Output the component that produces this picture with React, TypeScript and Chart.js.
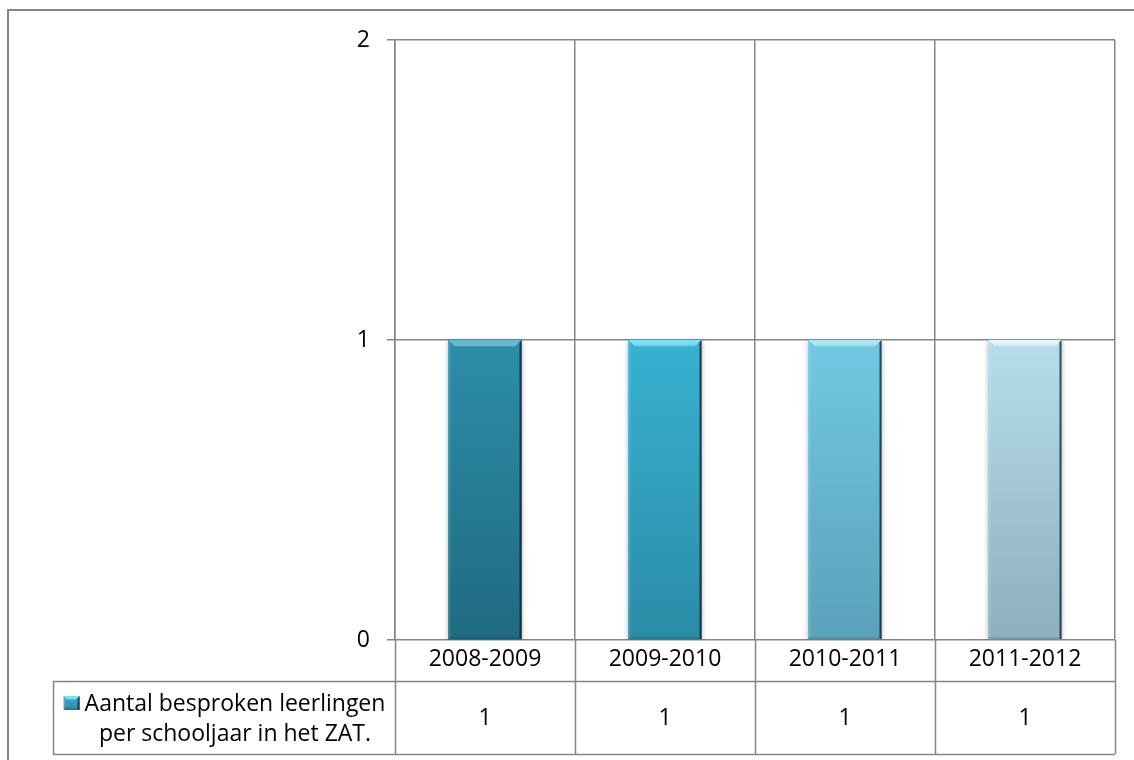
import React, { useEffect, useRef } from "react";
import { Chart, registerables } from "chart.js";

Chart.register(...registerables);

const categories = ["2008-2009", "2009-2010", "2010-2011", "2011-2012"];
const values = [1, 1, 1, 1];
const seriesLabel = ["Aantal besproken leerlingen", "per schooljaar in het ZAT."];
const yTickValues = [0, 1, 2];
const barTop = ["#2D8EA9", "#39B1D1", "#72C9E3", "#B7DDED"];
const barBottom = ["#1F6A80", "#2A8CA7", "#5AA1BA", "#8DAFBE"];
const barHighlight = ["#5CBAD3", "#74E2F9", "#A9E6F6", "#E3F5FC"];

const FONT = "'Open Sans', 'DejaVu Sans', sans-serif";
const FONT_SIZE = 23;
const GRID = "#858585";

function drawBevel(ctx: CanvasRenderingContext2D, x: number, y: number, w: number, h: number, hi: string, b: number) {
  ctx.save();
  const g = ctx.createLinearGradient(0, y, 0, y + b);
  g.addColorStop(0, hi);
  g.addColorStop(0.45, hi);
  g.addColorStop(1, "rgba(255,255,255,0)");
  ctx.beginPath();
  ctx.moveTo(x, y);
  ctx.lineTo(x + w, y);
  ctx.lineTo(x + w - b, y + b);
  ctx.lineTo(x + b, y + b);
  ctx.closePath();
  ctx.fillStyle = g;
  ctx.fill();
  ctx.fillStyle = "rgba(255,255,255,0.12)";
  ctx.beginPath();
  ctx.moveTo(x, y);
  ctx.lineTo(x + 2, y + 2);
  ctx.lineTo(x + 2, y + h - 1);
  ctx.lineTo(x, y + h);
  ctx.closePath();
  ctx.fill();
  ctx.fillStyle = "rgba(5,35,48,0.75)";
  ctx.beginPath();
  ctx.moveTo(x + w, y);
  ctx.lineTo(x + w - 2, y + 2);
  ctx.lineTo(x + w - 2, y + h - 1);
  ctx.lineTo(x + w, y + h);
  ctx.closePath();
  ctx.fill();
  ctx.fillStyle = "rgba(0,0,0,0.12)";
  ctx.fillRect(x, y + h - 2, w, 2);
  ctx.restore();
}

const frameAndTable = {
  id: "frameAndTable",
  beforeDraw(chart: any) {
    const ctx = chart.ctx;
    ctx.save();
    ctx.fillStyle = "#ffffff";
    ctx.fillRect(0, 0, chart.width, chart.height);
    ctx.strokeStyle = "#868686";
    ctx.lineWidth = 2;
    ctx.strokeRect(8, 10, chart.width + 20, chart.height + 20);
    ctx.restore();
  },
  beforeDatasetsDraw(chart: any) {
    const ctx = chart.ctx;
    ctx.save();
    ctx.shadowColor = "rgba(0,0,0,0.28)";
    ctx.shadowBlur = 5;
    ctx.shadowOffsetX = 0;
    ctx.shadowOffsetY = 1;
  },
  afterDatasetsDraw(chart: any) {
    const ctx = chart.ctx;
    ctx.restore();
    const meta = chart.getDatasetMeta(0);
    meta.data.forEach((bar: any, i: number) => {
      const p = bar.getProps(["x", "y", "base", "width"], true);
      if (![p.x, p.y, p.base, p.width].every(Number.isFinite)) return;
      drawBevel(ctx, p.x - p.width / 2, p.y, p.width, p.base - p.y, barHighlight[i % barHighlight.length], 7);
    });
  },
  afterDraw(chart: any) {
    const ctx = chart.ctx;
    const xs = chart.scales.x;
    const area = chart.chartArea;
    const n = categories.length;
    const colW = (area.right - area.left) / n;
    const headerBottom = area.bottom + 41;
    const rowBottom = headerBottom + 73;
    const tableLeft = 53;
    ctx.save();
    ctx.strokeStyle = GRID;
    ctx.lineWidth = 1.5;
    ctx.beginPath();
    for (let i = 0; i <= n; i++) {
      const px = Math.round(area.left + i * colW) + 0.5;
      ctx.moveTo(px, area.bottom);
      ctx.lineTo(px, rowBottom);
    }
    ctx.moveTo(tableLeft, headerBottom + 0.5);
    ctx.lineTo(area.right, headerBottom + 0.5);
    ctx.moveTo(tableLeft, rowBottom + 0.5);
    ctx.lineTo(area.right, rowBottom + 0.5);
    ctx.moveTo(tableLeft + 0.5, headerBottom);
    ctx.lineTo(tableLeft + 0.5, rowBottom);
    ctx.stroke();

    ctx.fillStyle = "#000";
    ctx.font = `${FONT_SIZE}px ${FONT}`;
    ctx.textAlign = "center";
    ctx.textBaseline = "middle";
    const rowMid = (headerBottom + rowBottom) / 2;
    values.forEach((v, i) => {
      ctx.fillText(String(v), xs.getPixelForTick(i), rowMid + 1);
    });

    const textCx = (tableLeft + area.left) / 2 + 11;
    ctx.fillText(seriesLabel[0], textCx, headerBottom + 23);
    ctx.fillText(seriesLabel[1], textCx, headerBottom + 53);
    const w1 = ctx.measureText(seriesLabel[0]).width;
    const kx = textCx - w1 / 2 - 21;
    const ky = headerBottom + 15;
    const g = ctx.createLinearGradient(0, ky, 0, ky + 14);
    g.addColorStop(0, "#3BB0D0");
    g.addColorStop(1, "#2A87A2");
    ctx.fillStyle = g;
    ctx.fillRect(kx, ky, 16, 14);
    drawBevel(ctx, kx, ky, 16, 14, "#7FE3F7", 4);
    ctx.restore();
  },
};

export default function App() {
  const ref = useRef<HTMLCanvasElement | null>(null);
  useEffect(() => {
    document.body.style.margin = "0";
    const canvas = ref.current!;
    const chart = new Chart(canvas, {
      type: "bar",
      data: {
        labels: categories,
        datasets: [
          {
            label: seriesLabel.join(" "),
            data: values,
            barThickness: 73,
            borderWidth: 0,
            backgroundColor: (c: any) => {
              const i = c.dataIndex ?? 0;
              const ys = c.chart.scales?.y;
              if (!ys || c.raw === undefined) return barTop[i] || barTop[0];
              const y0 = ys.getPixelForValue(c.raw);
              const y1 = ys.getPixelForValue(0);
              if (!Number.isFinite(y0) || !Number.isFinite(y1) || y0 === y1) return barTop[i];
              const g = c.chart.ctx.createLinearGradient(0, y0, 0, y1);
              g.addColorStop(0, barTop[i]);
              g.addColorStop(1, barBottom[i]);
              return g;
            },
          },
        ],
      },
      options: {
        responsive: false,
        animation: false,
        devicePixelRatio: 1,
        layout: { padding: { left: 0, right: 19, top: 40, bottom: 80 } },
        plugins: { legend: { display: false }, tooltip: { enabled: false } },
        scales: {
          x: {
            offset: true,
            grid: { display: true, offset: true, drawTicks: false, color: GRID, lineWidth: 1.5 },
            border: { display: false },
            ticks: { color: "#000", font: { family: FONT, size: FONT_SIZE }, padding: 6, maxRotation: 0 },
            afterFit: (s: any) => {
              s.height = 40;
            },
          },
          y: {
            min: 0,
            max: 2,
            afterBuildTicks: (s: any) => {
              s.ticks = yTickValues.map((v) => ({ value: v }));
            },
            grid: { color: GRID, lineWidth: 1.5, drawTicks: true, tickLength: 8, tickColor: GRID },
            border: { display: true, color: GRID, width: 1.5 },
            ticks: { color: "#000", font: { family: FONT, size: FONT_SIZE }, padding: 17 },
            afterFit: (s: any) => {
              s.width = 395;
            },
          },
        },
      },
      plugins: [frameAndTable],
    } as any);
    return () => chart.destroy();
  }, []);
  return (
    <div style={{ position: "absolute", left: 0, top: 0, width: 1134, height: 760 }}>
      <canvas ref={ref} width={1134} height={760} style={{ display: "block" }} />
    </div>
  );
}
